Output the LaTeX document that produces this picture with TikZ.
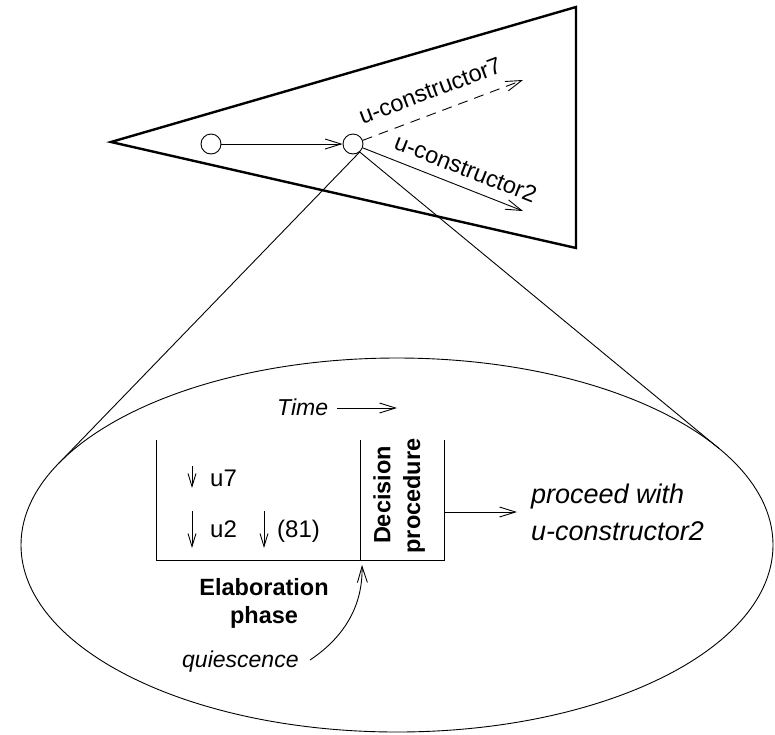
\documentclass[tikz,border=0pt]{standalone}
\usepackage{fontspec}
\setmainfont{Liberation Sans}
\usetikzlibrary{arrows.meta}
\begin{document}
\begin{tikzpicture}[x=1pt,y=-1pt,
  thinline/.style={line width=0.9pt},
  arr/.style={thinline,-{Straight Barb[length=16pt,width=10pt]}},
  downarr/.style={thinline,-{Straight Barb[length=13pt,width=8pt]}},
  state/.style={circle,draw,thinline,minimum size=20pt,inner sep=0pt},
  edgelbl/.style={font=\fontsize{23.5}{28}\selectfont,inner sep=0pt},
  txt/.style={font=\fontsize{24}{28}\selectfont,inner sep=0pt},
  itxt/.style={font=\fontsize{23}{27}\selectfont\itshape,inner sep=0pt},
  bigitxt/.style={font=\fontsize{27}{32}\selectfont\itshape,inner sep=0pt},
  btxt/.style={font=\fontsize{23.5}{28}\selectfont\bfseries,inner sep=0pt}]
\useasboundingbox (0,0) rectangle (775,734);

% search space triangle
\coordinate (tA) at (111,142);
\coordinate (tB) at (576,7);
\coordinate (tC) at (576,248);
\draw[line width=2.4pt,line join=miter] (tA) -- (tB) -- (tC) -- cycle;

% states and transitions
\node[state] (c1) at (211,144) {};
\node[state] (c2) at (353,144) {};
\coordinate (t7) at (523,80);
\coordinate (t2) at (523,211);
\draw[arr] (c1) -- (c2);
\draw[arr,dash pattern=on 10pt off 7pt] (c2) -- (t7)
  node[edgelbl,pos=0.47,above=14pt,sloped] (l7) {u-constructor7};
\draw[arr] (c2) -- (t2)
  node[edgelbl,pos=0.6,above=10pt,sloped] (l2) {u-constructor2};

% magnified view of the state
\coordinate (E) at (397,545);
\draw[thinline] (E) ellipse [x radius=376pt, y radius=187pt];
\coordinate (tl) at (58.4,463.7);
\coordinate (tr) at (718.8,448.3);
\draw[thinline] (c2.-50) -- (tl);
\draw[thinline] (c2.-50) -- (tr);

% time axis
\node[itxt,anchor=base west] (time) at (277,415) {Time};
\coordinate (ts) at (337,408);
\coordinate (te) at (397,408);
\draw[arr] (ts) -- (te);

% elaboration / decision box
\coordinate (b1) at (156,440);
\coordinate (b2) at (156,560);
\coordinate (b3) at (444,560);
\coordinate (b4) at (444,440);
\coordinate (d1) at (360,440);
\coordinate (d2) at (360,560);
\draw[thinline] (b1) -- (b2) -- (b3) -- (b4);
\draw[thinline] (d1) -- (d2);

\coordinate (a1s) at (192,466);
\coordinate (a1e) at (192,488);
\coordinate (a2s) at (192,511);
\coordinate (a2e) at (192,548);
\coordinate (a3s) at (264,511);
\coordinate (a3e) at (264,548);
\draw[downarr] (a1s) -- (a1e);
\draw[downarr] (a2s) -- (a2e);
\draw[downarr] (a3s) -- (a3e);
\node[txt,anchor=base west] (u7) at (210,486) {u7};
\node[txt,anchor=base west] (u2) at (210,537) {u2};
\node[txt,anchor=base west] (n81) at (277,537) {(81)};

\node[btxt,rotate=90] (dec) at (382,495) {Decision};
\node[btxt,rotate=90] (proc) at (414,496) {procedure};

\node[btxt,anchor=base] (elab) at (264,595) {Elaboration};
\node[btxt,anchor=base] (phase) at (264,623) {phase};

% outcome
\coordinate (os) at (444,512);
\coordinate (oe) at (517,512);
\draw[arr] (os) -- (oe);
\node[bigitxt,anchor=base west] (pw) at (531,503) {proceed with};
\node[bigitxt,anchor=base west] (uc2) at (531,540) {u-constructor2};

% quiescence
\node[itxt,anchor=base west] (quies) at (182,667) {quiescence};
\coordinate (qs) at (310,660);
\coordinate (qe) at (362,565);
\draw[arr] (qs) .. controls (340,640) and (363,610) .. (qe);
\end{tikzpicture}
\end{document}
